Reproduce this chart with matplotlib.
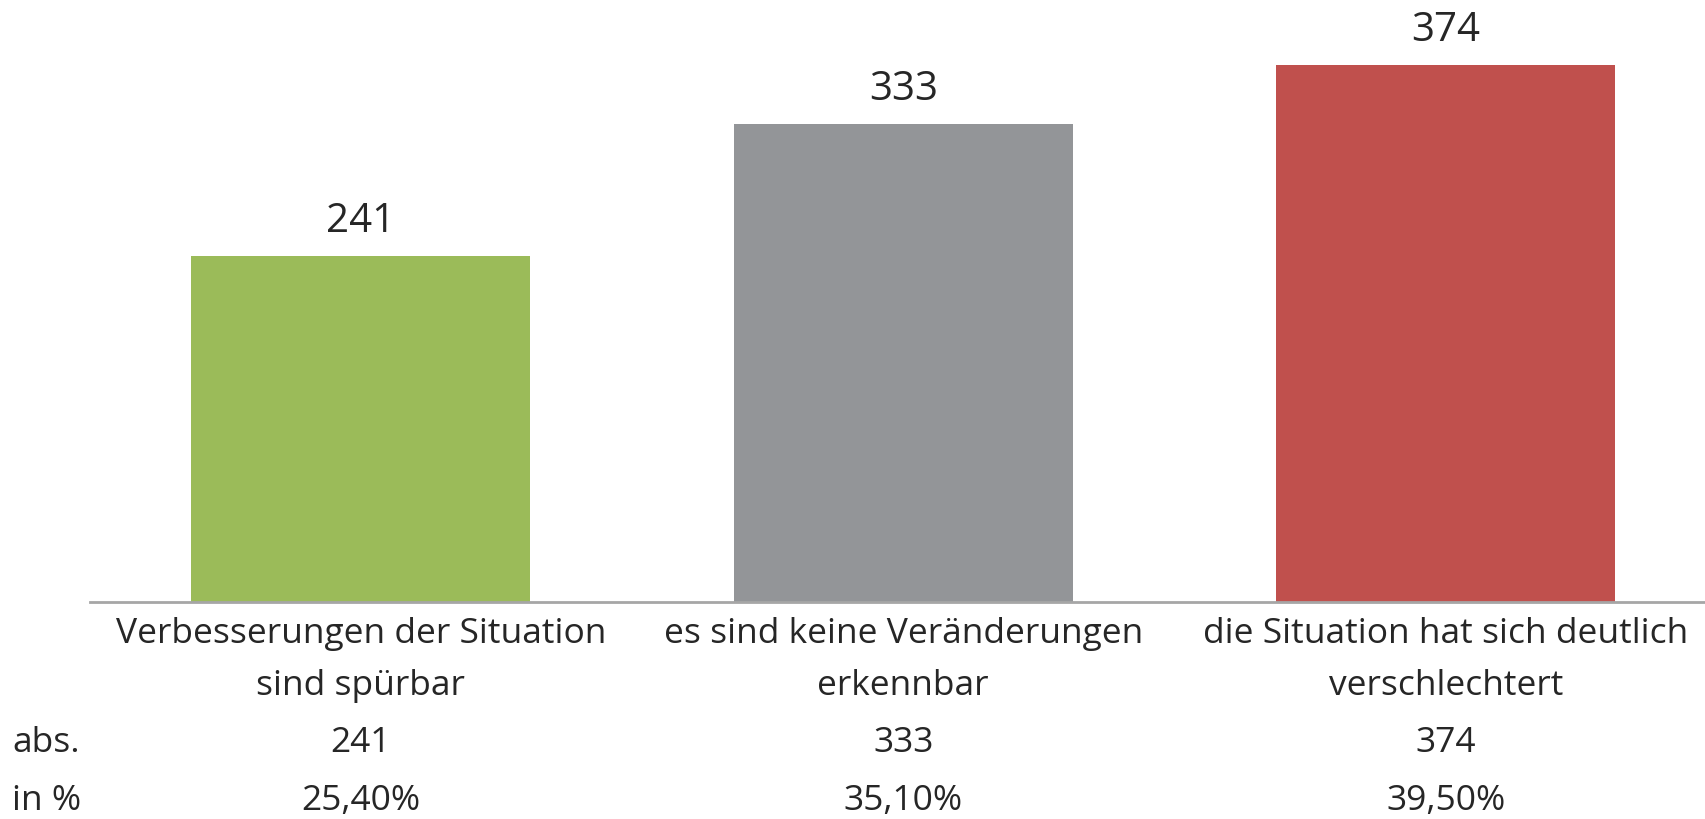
import matplotlib
matplotlib.use("Agg")
import matplotlib.pyplot as plt
from matplotlib.transforms import blended_transform_factory

categories = ["Verbesserungen der Situation\nsind spürbar",
              "es sind keine Veränderungen\nerkennbar",
              "die Situation hat sich deutlich\nverschlechtert"]
values = [241, 333, 374]
percent_labels = ["25,40%", "35,10%", "39,50%"]
colors = ["#9BBB59", "#939598", "#C0504D"]

plt.rcParams['font.family'] = ['Open Sans', 'DejaVu Sans']
TXT = "#262626"
FS = 25.5
FS_TOP = 29

W, H = 1706, 819
fig = plt.figure(figsize=(W / 100, H / 100), dpi=100)
ax = fig.add_axes([89.5 / W, (H - 602) / H, (1717 - 89.5) / W, 602 / H])

x = list(range(len(values)))
ax.bar(x, values, width=0.625, color=colors)
ax.set_xlim(-0.5, 2.5)
ax.set_ylim(0, 419)

for s in ["top", "right", "left"]:
    ax.spines[s].set_visible(False)
ax.spines["bottom"].set_color("#A6A6A6")
ax.spines["bottom"].set_linewidth(2)
ax.set_yticks([])
ax.set_xticks([])

for xi, v in zip(x, values):
    ax.annotate(str(v), (xi, v), xytext=(0, 34), textcoords="offset pixels",
                ha="center", va="center", fontsize=FS_TOP, color=TXT)

tr = blended_transform_factory(ax.transData, fig.transFigure)
for xi, cat, v, p in zip(x, categories, values, percent_labels):
    l1, l2 = cat.split("\n")
    ax.text(xi, 1 - 634 / H, l1, transform=tr, ha="center", va="center", fontsize=FS, color=TXT)
    ax.text(xi, 1 - 686 / H, l2, transform=tr, ha="center", va="center", fontsize=FS, color=TXT)
    ax.text(xi, 1 - 743 / H, str(v), transform=tr, ha="center", va="center", fontsize=FS, color=TXT)
    ax.text(xi, 1 - 801 / H, p, transform=tr, ha="center", va="center", fontsize=FS, color=TXT)

fig.text(12 / W, 1 - 743 / H, "abs.", ha="left", va="center", fontsize=FS, color=TXT)
fig.text(12 / W, 1 - 801 / H, "in %", ha="left", va="center", fontsize=FS, color=TXT)

fig.savefig("out.png", dpi=100)
